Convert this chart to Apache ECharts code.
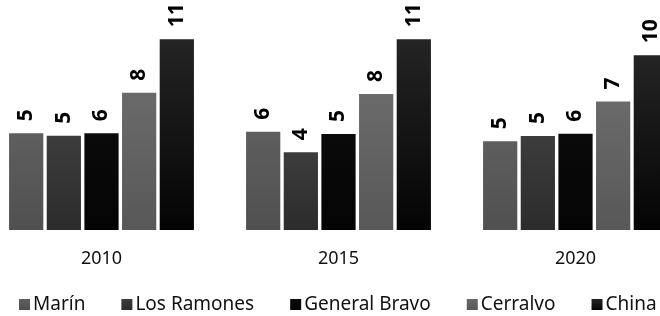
<!DOCTYPE html>
<html>
<head>
<meta charset="utf-8">
<script src="https://cdn.jsdelivr.net/npm/echarts@6/dist/echarts.min.js"></script>
<style>
html,body{margin:0;padding:0;background:#fff;overflow:hidden;width:660px;height:316px;}
#wrap{position:relative;width:660px;height:316px;overflow:hidden;}
#chart{position:absolute;left:-17px;top:0;width:711px;height:316px;}
</style>
</head>
<body>
<div id="wrap"><div id="chart"></div></div>
<script>
const categories = ['2010', '2015', '2020'];
const seriesNames = ['Marín', 'Los Ramones', 'General Bravo', 'Cerralvo', 'China'];
const marin = [5.53, 5.62, 5.07];
const losRamones = [5.39, 4.44, 5.37];
const generalBravo = [5.53, 5.49, 5.5];
const cerralvo = [7.85, 7.77, 7.35];
const china = [10.9, 10.9, 9.98];
const marinLabels = [5, 6, 5];
const losRamonesLabels = [5, 4, 5];
const generalBravoLabels = [6, 5, 6];
const cerralvoLabels = [8, 8, 7];
const chinaLabels = [11, 11, 10];

const values = [marin, losRamones, generalBravo, cerralvo, china];
const labels = [marinLabels, losRamonesLabels, generalBravoLabels, cerralvoLabels, chinaLabels];
const topColors = ['#5e5e5e', '#3c3c3c', '#0a0a0a', '#6a6a6a', '#242424'];
const bottomColors = ['#505050', '#2c2c2c', '#040404', '#585858', '#040404'];
const FONT = 'Noto Sans';

const chart = echarts.init(document.getElementById('chart'), null, {renderer: 'canvas'});
chart.setOption({
  animation: false,
  backgroundColor: '#ffffff',
  textStyle: {fontFamily: FONT},
  legend: {
    left: 31,
    top: 290,
    itemWidth: 11,
    itemHeight: 11,
    itemGap: 36,
    icon: 'rect',
    textStyle: {fontFamily: FONT, fontSize: 19, color: '#111', padding: [0, 0, 0, -2]},
    data: seriesNames
  },
  grid: {left: 0, right: 0, top: 20, bottom: 86},
  xAxis: {
    type: 'category',
    data: categories,
    axisLine: {show: false},
    axisTick: {show: false},
    axisLabel: {fontFamily: FONT, fontSize: 18, color: '#111', margin: 20}
  },
  yAxis: {type: 'value', min: 0, max: 12, show: false, splitLine: {show: false}},
  series: seriesNames.map((name, i) => ({
    name: name,
    type: 'bar',
    barGap: '10%',
    barCategoryGap: '22%',
    data: values[i],
    itemStyle: {
      color: new echarts.graphic.LinearGradient(0, 0, 0, 1, [
        {offset: 0, color: topColors[i]},
        {offset: 1, color: bottomColors[i]}
      ])
    },
    label: {
      show: true,
      position: 'top',
      rotate: 90,
      align: 'left',
      verticalAlign: 'middle',
      distance: 12,
      fontFamily: FONT,
      fontSize: 21,
      fontWeight: 'bold',
      color: '#000',
      formatter: (p) => String(labels[i][p.dataIndex])
    }
  }))
});
</script>
</body>
</html>
